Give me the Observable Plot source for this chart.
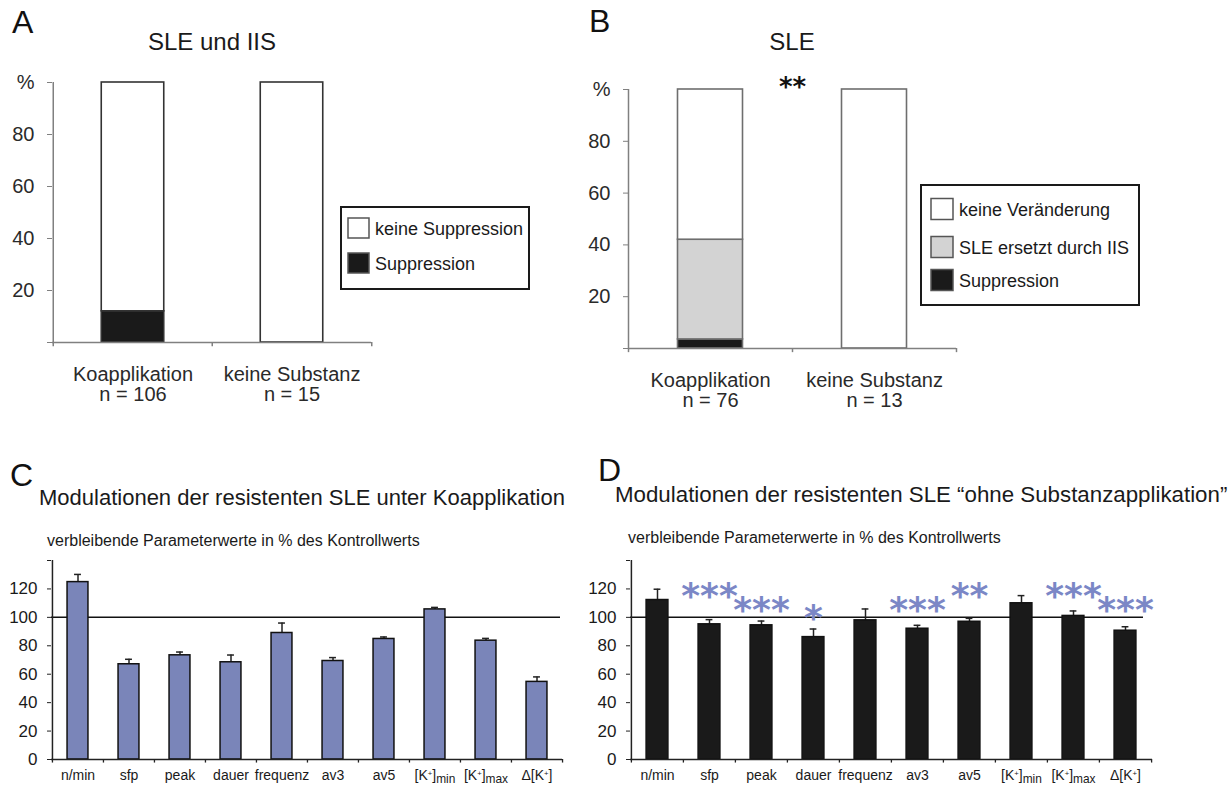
<!DOCTYPE html>
<html>
<head>
<meta charset="utf-8">
<script src="https://cdn.jsdelivr.net/npm/d3@7"></script>
<script src="https://cdn.jsdelivr.net/npm/@observablehq/plot@0.6"></script>
<style>
  html, body { margin: 0; padding: 0; background: #fff; }
  #root { position: relative; width: 1228px; height: 789px; overflow: hidden; background: #fff;
          font-family: "Liberation Sans", Arial, Helvetica, sans-serif; }
  #root > svg { position: absolute; }
</style>
</head>
<body>
<div id="root"></div>
<script>
// ---------------- DATA ----------------
// Panel A: SLE und IIS
const catsA = ["Koapplikation", "keine Substanz"];
const nA = ["n = 106", "n = 15"];
const seriesA = ["Suppression", "keine Suppression"];
const suppA = [12, 0];
const keineSuppA = [88, 100];

// Panel B: SLE
const catsB = ["Koapplikation", "keine Substanz"];
const nB = ["n = 76", "n = 13"];
const seriesB = ["Suppression", "SLE ersetzt durch IIS", "keine Veränderung"];
const suppB = [3.5, 0];
const iisB = [38.5, 0];
const keineB = [58, 100];
const sigB = "**";

// Panels C and D
const params = ["n/min", "sfp", "peak", "dauer", "frequenz", "av3", "av5", "[K+]min", "[K+]max", "Δ[K+]"];
const meanC = [124.8, 67.0, 73.3, 68.4, 89.0, 69.3, 84.8, 105.6, 83.6, 54.6];
const upperC = [130.2, 70.5, 75.6, 73.5, 96.0, 71.7, 86.2, 107.0, 85.2, 58.1];
const meanD = [112.2, 95.1, 94.4, 86.1, 97.9, 92.0, 96.9, 109.9, 101.0, 90.6];
const upperD = [119.8, 98.4, 97.4, 91.8, 105.9, 94.4, 99.3, 115.3, 104.5, 93.4];
const starsD = ["", "***", "***", "*", "", "***", "**", "", "***", "***"];
const starLevelD = [null, 115, 105, 99, null, 105, 115, null, 115, 105];
const yTicksAB = [0, 20, 40, 60, 80, 100];
const yTicksCD = [0, 20, 40, 60, 80, 100, 120, 140];
const refLine = [100];

// Texts
const panelLetters = ["A", "B", "C", "D"];
const titleA = "SLE und IIS";
const titleB = "SLE";
const titleC = "Modulationen der resistenten SLE unter Koapplikation";
const titleD = "Modulationen der resistenten SLE \u201Cohne Substanzapplikation\u201D";
const subtitleCD = "verbleibende Parameterwerte in % des Kontrollwerts";

// ---------------- STYLE / LAYOUT ----------------
const FONT = "'Liberation Sans', Arial, Helvetica, sans-serif";
const colorsA = ["#1a1a1a", "#ffffff"];
const colorsB = ["#1a1a1a", "#d3d3d3", "#ffffff"];
const barBlue = "#7a85b9";
const starBlue = "#7b87c6";
const axisGray = "#808080";

const root = document.getElementById("root");
function put(svg, left, top) {
  svg.style.left = left + "px";
  svg.style.top = top + "px";
  root.appendChild(svg);
}

// ---------- Panel A ----------
const LA = {left: 0, top: 60, width: 380, height: 370, ml: 52, mr: 9, mt: 22, mb: 88, barW: 63};
const bwA = (LA.width - LA.ml - LA.mr) / catsA.length;
const rowsA = catsA.flatMap((c, i) => [
  {cat: c, series: seriesA[0], v: suppA[i]},
  {cat: c, series: seriesA[1], v: keineSuppA[i]}
]);
const plotA = Plot.plot({
  width: LA.width, height: LA.height,
  marginLeft: LA.ml, marginRight: LA.mr, marginTop: LA.mt, marginBottom: LA.mb,
  style: {fontFamily: FONT, color: "#2a2a2a", background: "transparent", overflow: "visible"},
  x: {type: "band", domain: catsA, padding: 0, label: null},
  y: {domain: [0, 100], label: null},
  color: {domain: seriesA, range: colorsA},
  marks: [
    Plot.barY(rowsA, {x: "cat", y: "v", fill: "series", stroke: "#333", strokeWidth: 1.6,
      insetLeft: (bwA - LA.barW) / 2, insetRight: (bwA - LA.barW) / 2}),
    Plot.ruleX([catsA[0]], {x: d => d, dx: -bwA / 2, y1: 0, y2: 100, stroke: axisGray, strokeWidth: 1.5}),
    Plot.ruleY([0], {stroke: axisGray, strokeWidth: 1.5}),
    Plot.ruleX(catsA, {x: d => d, dx: -bwA / 2, y1: 0, y2: -1.6, stroke: axisGray, strokeWidth: 1.5}),
    Plot.ruleX([catsA[catsA.length - 1]], {x: d => d, dx: bwA / 2, y1: 0, y2: -1.6, stroke: axisGray, strokeWidth: 1.5}),
    Plot.axisY({ticks: yTicksAB, tickSize: 5, tickPadding: 13, stroke: axisGray, fontSize: 20, label: null,
      tickFormat: d => d === 100 ? "%" : d === 0 ? "" : String(d)}),
    Plot.axisX({tickSize: 0, tickPadding: 24, fontSize: 20, lineHeight: 1, label: null,
      tickFormat: d => d + "\n" + nA[catsA.indexOf(d)]})
  ]
});
put(plotA, LA.left, LA.top);

// ---------- Panel B ----------
const LB = {left: 560, top: 60, width: 410, height: 370, ml: 68, mr: 14, mt: 29, mb: 82, barW: 65};
const bwB = (LB.width - LB.ml - LB.mr) / catsB.length;
const rowsB = catsB.flatMap((c, i) => [
  {cat: c, series: seriesB[0], v: suppB[i]},
  {cat: c, series: seriesB[1], v: iisB[i]},
  {cat: c, series: seriesB[2], v: keineB[i]}
]);
const plotB = Plot.plot({
  width: LB.width, height: LB.height,
  marginLeft: LB.ml, marginRight: LB.mr, marginTop: LB.mt, marginBottom: LB.mb,
  style: {fontFamily: FONT, color: "#2a2a2a", background: "transparent", overflow: "visible"},
  x: {type: "band", domain: catsB, padding: 0, label: null},
  y: {domain: [0, 100], label: null},
  color: {domain: seriesB, range: colorsB},
  marks: [
    Plot.barY(rowsB, {x: "cat", y: "v", fill: "series", stroke: "#6e6e6e", strokeWidth: 1.6,
      insetLeft: (bwB - LB.barW) / 2, insetRight: (bwB - LB.barW) / 2}),
    Plot.ruleX([catsB[0]], {x: d => d, dx: -bwB / 2, y1: 0, y2: 100, stroke: axisGray, strokeWidth: 1.5}),
    Plot.ruleY([0], {stroke: axisGray, strokeWidth: 1.5}),
    Plot.ruleX(catsB, {x: d => d, dx: -bwB / 2, y1: 0, y2: -1.6, stroke: axisGray, strokeWidth: 1.5}),
    Plot.ruleX([catsB[catsB.length - 1]], {x: d => d, dx: bwB / 2, y1: 0, y2: -1.6, stroke: axisGray, strokeWidth: 1.5}),
    Plot.axisY({ticks: yTicksAB, tickSize: 5, tickPadding: 13, stroke: axisGray, fontSize: 20, label: null,
      tickFormat: d => d === 100 ? "%" : d === 0 ? "" : String(d)}),
    Plot.axisX({tickSize: 0, tickPadding: 24, fontSize: 20, lineHeight: 1, label: null,
      tickFormat: d => d + "\n" + nB[catsB.indexOf(d)]}),
    Plot.text([sigB], {frameAnchor: "top", dy: -12, fontSize: 26, fontWeight: "bold",
      fontFamily: "'DejaVu Sans', sans-serif", fill: "#111"})
  ]
});
put(plotB, LB.left, LB.top);

// ---------- Panels C and D ----------
function kFormat(svg) {
  d3.select(svg).selectAll("text").each(function() {
    const s = this.textContent;
    const m = s.match(/^(Δ?)\[K\+\](.*)$/);
    if (!m) return;
    const t = d3.select(this);
    t.text(null);
    t.append("tspan").text(m[1] + "[K");
    t.append("tspan").attr("baseline-shift", "super").attr("font-size", "55%").text("+");
    t.append("tspan").text("]");
    if (m[2]) t.append("tspan").attr("baseline-shift", "-25%").attr("font-size", "85%").text(m[2]);
  });
}

function paramPanel(L, mean, upper, fill, extra) {
  const bw = (L.width - L.ml - L.mr) / params.length;
  const rows = params.map((p, i) => ({p, v: mean[i], e: upper[i]}));
  const svg = Plot.plot({
    width: L.width, height: L.height,
    marginLeft: L.ml, marginRight: L.mr, marginTop: L.mt, marginBottom: L.mb,
    style: {fontFamily: FONT, color: "#1a1a1a", background: "transparent", overflow: "visible"},
    x: {type: "band", domain: params, padding: 0, label: null},
    y: {domain: [0, 140], label: null},
    marks: [
      Plot.ruleY(refLine, {stroke: "#111", strokeWidth: 1.5, insetRight: L.refInset}),
      Plot.ruleX(rows, {x: "p", y1: "v", y2: "e", stroke: "#222", strokeWidth: 1.5}),
      Plot.tickY(rows, {x: "p", y: "e", stroke: "#222", strokeWidth: 1.5,
        insetLeft: (bw - 7) / 2, insetRight: (bw - 7) / 2}),
      Plot.barY(rows, {x: "p", y: "v", fill, stroke: "#111", strokeWidth: 1.5,
        insetLeft: (bw - L.barW) / 2, insetRight: (bw - L.barW) / 2}),
      Plot.ruleX([params[0]], {x: d => d, dx: -bw / 2, y1: 0, y2: 140, stroke: "#222", strokeWidth: 1.5}),
      Plot.ruleY([0], {stroke: "#222", strokeWidth: 1.5}),
      Plot.ruleX(params, {x: d => d, dx: -bw / 2, y1: 0, y2: -2.5, stroke: "#222", strokeWidth: 1.3}),
      Plot.ruleX([params[params.length - 1]], {x: d => d, dx: bw / 2, y1: 0, y2: -2.5, stroke: "#222", strokeWidth: 1.3}),
      Plot.axisY({ticks: yTicksCD, tickSize: 4, tickPadding: 10, stroke: "#222", fontSize: 17, label: null,
        tickFormat: d => d === 140 ? "" : String(d)}),
      Plot.axisX({tickSize: 0, tickPadding: 11, fontSize: 14, label: null}),
      ...extra
    ]
  });
  kFormat(svg);
  return svg;
}

const LC = {left: 0, top: 545, width: 580, height: 244, ml: 51, mr: 18, mt: 15, mb: 30, barW: 21, refInset: 2};
put(paramPanel(LC, meanC, upperC, barBlue, []), LC.left, LC.top);

const LD = {left: 590, top: 545, width: 638, height: 244, ml: 40, mr: 76, mt: 15, mb: 30, barW: 22, refInset: 9};
const starRows = params.map((p, i) => ({p, s: starsD[i], lvl: starLevelD[i]})).filter(d => d.s);
put(paramPanel(LD, meanD, upperD, "#1a1a1a", [
  Plot.text(starRows, {x: "p", y: "lvl", text: "s", fill: starBlue, fontSize: 36, fontWeight: "bold",
    fontFamily: "'DejaVu Sans', sans-serif"})
]), LD.left, LD.top);

// ---------- Overlay: panel letters, titles, legends ----------
const ov = d3.create("svg").attr("width", 1228).attr("height", 789)
  .style("left", "0px").style("top", "0px").style("pointer-events", "none")
  .attr("font-family", FONT);

const letterPos = [[12, 33], [589, 32], [10, 486], [598, 481]];
panelLetters.forEach((t, i) => ov.append("text").attr("x", letterPos[i][0]).attr("y", letterPos[i][1])
  .attr("font-size", 32).attr("fill", "#111").text(t));

ov.append("text").attr("x", 212).attr("y", 50).attr("text-anchor", "middle").attr("font-size", 24).attr("fill", "#1a1a1a").text(titleA);
ov.append("text").attr("x", 792).attr("y", 50).attr("text-anchor", "middle").attr("font-size", 24).attr("fill", "#1a1a1a").text(titleB);
ov.append("text").attr("x", 39).attr("y", 505).attr("font-size", 22).attr("fill", "#1a1a1a").text(titleC);
ov.append("text").attr("x", 615).attr("y", 502).attr("font-size", 22.3).attr("fill", "#1a1a1a").text(titleD);
ov.append("text").attr("x", 47).attr("y", 546).attr("font-size", 16).attr("fill", "#1a1a1a").text(subtitleCD);
ov.append("text").attr("x", 628).attr("y", 543).attr("font-size", 16).attr("fill", "#1a1a1a").text(subtitleCD);

function legend(box, items, colors, rowsY, sw) {
  ov.append("rect").attr("x", box[0]).attr("y", box[1]).attr("width", box[2]).attr("height", box[3])
    .attr("fill", "#fff").attr("stroke", "#1a1a1a").attr("stroke-width", 2);
  items.forEach((name, i) => {
    const cy = rowsY[i];
    ov.append("rect").attr("x", sw[0]).attr("y", cy - sw[2] / 2).attr("width", sw[1]).attr("height", sw[2])
      .attr("fill", colors[i]).attr("stroke", "#555").attr("stroke-width", 1.5);
    ov.append("text").attr("x", sw[0] + sw[1] + 6).attr("y", cy + 6.5).attr("font-size", 18).attr("fill", "#1a1a1a").text(name);
  });
}
legend([341, 207, 188, 82], [seriesA[1], seriesA[0]], [colorsA[1], colorsA[0]], [228, 263], [348, 21, 20]);
legend([921, 185, 218, 120], [seriesB[2], seriesB[1], seriesB[0]], [colorsB[2], colorsB[1], colorsB[0]], [209, 247, 280], [931, 22, 21]);

root.appendChild(ov.node());
</script>
</body>
</html>
